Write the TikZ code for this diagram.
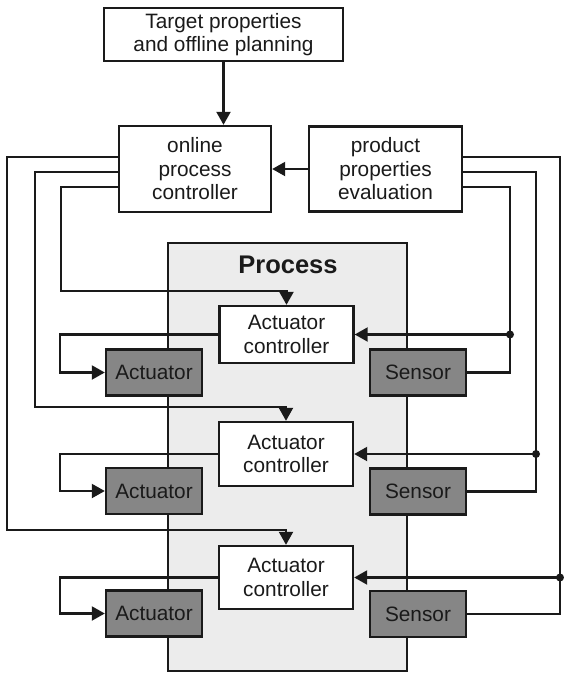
\documentclass[tikz,border=0pt]{standalone}
\usepackage{fontspec}
\setmainfont{Liberation Sans}
\usetikzlibrary{arrows.meta}
\definecolor{inkc}{RGB}{26,26,26}
\definecolor{procfill}{RGB}{236,236,236}
\definecolor{devfill}{RGB}{134,134,134}
\begin{document}
\begin{tikzpicture}[x=1pt,y=-1pt,
  font=\fontsize{20.8}{23.5}\selectfont,
  box/.style={draw=inkc, line width=2.4pt, fill=white, inner sep=0pt, align=center, text=inkc},
  devbox/.style={box, fill=devfill, minimum width=96pt, minimum height=46pt},
  ctrlbox/.style={box, minimum width=134pt},
  wire/.style={draw=inkc, line width=2.1pt},
  arr/.style={wire, -{Triangle[length=13pt,width=14pt]}},
]
\useasboundingbox (0,0) rectangle (564,673);

% process area
\node[box, fill=procfill, minimum width=239pt, minimum height=428pt] (process) at (287.5,457) {};
\node[font=\bfseries\fontsize{25.5}{30}\selectfont, text=inkc] (ptitle) at (288,265) {Process};

% upper level blocks
\node[box, minimum width=239pt, minimum height=53pt] (plan) at (223.5,34.5) {Target properties\\and offline planning};
\node[box, minimum width=152pt, minimum height=86pt] (online) at (195,169) {online\\process\\controller};
\node[box, minimum width=153pt, minimum height=85pt] (product) at (385.5,169) {product\\properties\\evaluation};

% actuator controllers
\node[ctrlbox, minimum height=57pt] (ac1) at (286.5,334.5) {Actuator\\controller};
\node[ctrlbox, minimum height=64pt] (ac2) at (286,454) {Actuator\\controller};
\node[ctrlbox, minimum height=63pt] (ac3) at (286,577.5) {Actuator\\controller};

% actuators and sensors
\node[devbox] (act1) at (154,372.5) {Actuator};
\node[devbox] (act2) at (154,491) {Actuator};
\node[devbox] (act3) at (154,613.5) {Actuator};
\node[devbox] (sen1) at (418,372.5) {Sensor};
\node[devbox] (sen2) at (418,491.5) {Sensor};
\node[devbox] (sen3) at (418,614) {Sensor};

% branch points of the sensor feedback
\coordinate (j1) at (510,334.5);
\coordinate (j2) at (536,454);
\coordinate (j3) at (560,577.5);
\coordinate (loopx) at (60,0);

% planning and evaluation into the online controller
\draw[arr] (plan.south) -- (plan.south |- online.north);
\draw[arr] (product.west) -- (product.west -| online.east);

% set points to the actuator controllers
\draw[arr] ([yshift=12pt]online.west) -| (7,530) -| (ac3.north);
\draw[arr] ([yshift=-3pt]online.west) -| (35,407) -| (ac2.north);
\draw[arr] ([yshift=-18pt]online.west) -| (61,291) -| (ac1.north);

% sensor signals to evaluation and to the controllers
\draw[wire] ([yshift=12pt]product.east) -| (j3) |- (sen3.east);
\draw[wire] ([yshift=-3pt]product.east) -| (j2) |- (sen2.east);
\draw[wire] ([yshift=-18pt]product.east) -| (j1) |- (sen1.east);
\draw[arr] (j1) -- (ac1.east);
\draw[arr] (j2) -- (ac2.east);
\draw[arr] (j3) -- (ac3.east);
\fill[inkc] (j1) circle (4pt);
\fill[inkc] (j2) circle (4pt);
\fill[inkc] (j3) circle (4pt);

% controller outputs to the actuators
\draw[arr] (ac1.west) -- (ac1.west -| loopx) |- (act1.west);
\draw[arr] (ac2.west) -- (ac2.west -| loopx) |- (act2.west);
\draw[arr] (ac3.west) -- (ac3.west -| loopx) |- (act3.west);
\end{tikzpicture}
\end{document}
